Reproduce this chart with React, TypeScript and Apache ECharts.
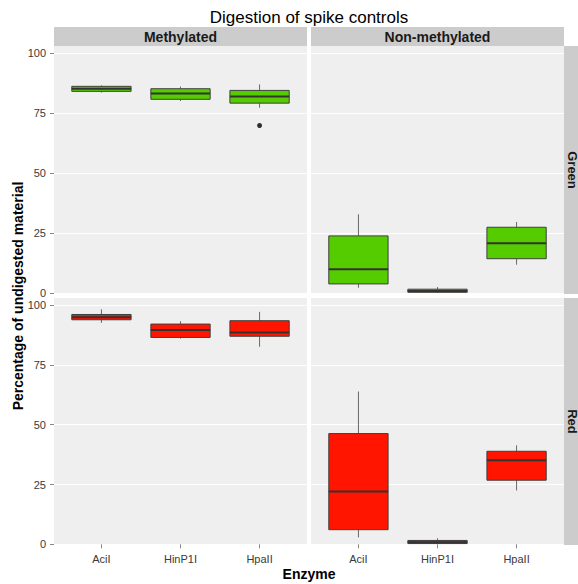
import React, { useEffect, useRef } from 'react';
import * as echarts from 'echarts';

const enzymes = ['AciI', 'HinP1I', 'HpaII'];
const treatments = ['Methylated', 'Non-methylated'];
const channels = ['Green', 'Red'];
const yTicks = [0, 25, 50, 75, 100];
const xPositions = [1, 2, 3];

// [min, Q1, median, Q3, max] per enzyme
const greenMethylated = [
  [83.6, 84.1, 85.2, 86.2, 86.6],
  [80.1, 80.8, 83.2, 85.2, 86.1],
  [77.3, 79.2, 82.0, 84.5, 87.0],
];
const greenNonMethylated = [
  [2.3, 3.9, 10.0, 23.9, 32.9],
  [0.2, 0.4, 0.9, 1.7, 2.6],
  [11.9, 14.4, 20.8, 27.5, 29.7],
];
const redMethylated = [
  [92.6, 93.9, 95.0, 96.1, 98.3],
  [86.0, 86.5, 89.6, 92.1, 93.3],
  [82.6, 87.0, 88.6, 93.5, 97.2],
];
const redNonMethylated = [
  [2.9, 6.1, 22.1, 46.3, 63.9],
  [0.1, 0.3, 0.9, 1.6, 2.5],
  [22.5, 26.8, 35.1, 38.9, 41.4],
];
// outliers: [enzyme position, value]
const greenMethylatedOutliers = [[3, 69.9]];

const channelColors = ['#55CC00', '#FF1500'];

const FONT = '"Liberation Sans", Arial, Helvetica, sans-serif';

export default function App() {
  const ref = useRef<HTMLDivElement>(null);

  useEffect(() => {
    document.body.style.margin = '0';
    if (!ref.current) return;
    const chart = echarts.init(ref.current, null, { renderer: 'svg' });

    const panelX = [[54, 253], [311, 253]];
    const panelY = [[46, 248], [298, 247]];

    const panels = [
      { row: 0, col: 0, data: greenMethylated, outliers: greenMethylatedOutliers },
      { row: 0, col: 1, data: greenNonMethylated, outliers: [] as number[][] },
      { row: 1, col: 0, data: redMethylated, outliers: [] as number[][] },
      { row: 1, col: 1, data: redNonMethylated, outliers: [] as number[][] },
    ];

    const renderBox = (fill: string) => (params: any, api: any) => {
      const x = api.value(0);
      const c = (v: number) => api.coord([x, v]);
      const [cx, yMin] = c(api.value(1));
      const yQ1 = c(api.value(2))[1];
      const yMed = c(api.value(3))[1];
      const yQ3 = c(api.value(4))[1];
      const yMax = c(api.value(5))[1];
      const w = api.size([0.75, 0])[0];
      return {
        type: 'group',
        children: [
          { type: 'line', shape: { x1: cx, y1: yMax, x2: cx, y2: yQ3 }, style: { stroke: '#6a6a6a', lineWidth: 1 } },
          { type: 'line', shape: { x1: cx, y1: yQ1, x2: cx, y2: yMin }, style: { stroke: '#6a6a6a', lineWidth: 1 } },
          {
            type: 'rect',
            shape: { x: cx - w / 2, y: yQ3, width: w, height: yQ1 - yQ3 },
            style: { fill, stroke: '#3f3f3f', lineWidth: 1 },
          },
          { type: 'line', shape: { x1: cx - w / 2, y1: yMed, x2: cx + w / 2, y2: yMed }, style: { stroke: '#333333', lineWidth: 2 } },
        ],
      };
    };

    const grid: any[] = [];
    const xAxis: any[] = [];
    const yAxis: any[] = [];
    const series: any[] = [];

    panels.forEach((p, i) => {
      grid.push({
        left: panelX[p.col][0],
        width: panelX[p.col][1],
        top: panelY[p.row][0],
        height: panelY[p.row][1],
        show: true,
        backgroundColor: '#EFEFEF',
        borderWidth: 0,
      });
      const showX = p.row === 1;
      xAxis.push({
        type: 'value',
        gridIndex: i,
        min: 0.4,
        max: 3.6,
        axisLine: { show: false },
        splitLine: { show: false },
        axisTick: {
          show: showX,
          customValues: xPositions,
          length: 4,
          lineStyle: { color: '#888888' },
        },
        axisLabel: {
          show: showX,
          customValues: xPositions,
          formatter: (v: number) => enzymes[Math.round(v) - 1] ?? '',
          color: '#3a3a3a',
          fontSize: 11,
          fontFamily: FONT,
          margin: 8,
        },
      });
      const showY = p.col === 0;
      yAxis.push({
        type: 'value',
        gridIndex: i,
        min: -0.3,
        max: 103,
        axisLine: { show: false },
        axisTick: {
          show: showY,
          customValues: yTicks,
          length: 4,
          lineStyle: { color: '#888888' },
        },
        axisLabel: {
          show: showY,
          customValues: yTicks,
          color: '#3a3a3a',
          fontSize: 11,
          fontFamily: FONT,
          margin: 8,
        },
        splitLine: { show: true, lineStyle: { color: '#FFFFFF', width: 1 } },
      });
      series.push({
        type: 'custom',
        xAxisIndex: i,
        yAxisIndex: i,
        renderItem: renderBox(channelColors[p.row]),
        encode: { x: 0, y: [1, 2, 3, 4, 5] },
        data: p.data.map((d, k) => [xPositions[k], ...d]),
        clip: false,
      });
      if (p.outliers.length) {
        series.push({
          type: 'scatter',
          xAxisIndex: i,
          yAxisIndex: i,
          data: p.outliers,
          symbol: 'circle',
          symbolSize: 5,
          itemStyle: { color: '#000000' },
        });
      }
    });

    const graphic: any[] = [];
    // top strips
    treatments.forEach((t, c) => {
      graphic.push({
        type: 'rect',
        shape: { x: panelX[c][0], y: 27, width: panelX[c][1], height: 19 },
        style: { fill: '#CCCCCC' },
        silent: true,
      });
      graphic.push({
        type: 'text',
        x: panelX[c][0] + panelX[c][1] / 2,
        y: 37,
        style: {
          text: t,
          align: 'center',
          verticalAlign: 'middle',
          font: `bold 14px ${FONT}`,
          fill: '#1a1a1a',
        },
        silent: true,
      });
    });
    // right strips
    channels.forEach((ch, r) => {
      graphic.push({
        type: 'rect',
        shape: { x: 564, y: panelY[r][0], width: 19, height: panelY[r][1] },
        style: { fill: '#CCCCCC' },
        silent: true,
      });
      graphic.push({
        type: 'text',
        x: 572,
        y: panelY[r][0] + panelY[r][1] / 2,
        rotation: -Math.PI / 2,
        style: {
          text: ch,
          align: 'center',
          verticalAlign: 'middle',
          font: `bold 13px ${FONT}`,
          fill: '#1a1a1a',
        },
        silent: true,
      });
    });
    // title
    graphic.push({
      type: 'text',
      x: 309,
      y: 17,
      style: {
        text: 'Digestion of spike controls',
        align: 'center',
        verticalAlign: 'middle',
        font: `17px ${FONT}`,
        fill: '#000000',
      },
    });
    // x axis title
    graphic.push({
      type: 'text',
      x: 309,
      y: 574,
      style: {
        text: 'Enzyme',
        align: 'center',
        verticalAlign: 'middle',
        font: `bold 14px ${FONT}`,
        fill: '#000000',
      },
    });
    // y axis title
    graphic.push({
      type: 'text',
      x: 18,
      y: 296,
      rotation: Math.PI / 2,
      style: {
        text: 'Percentage of undigested material',
        align: 'center',
        verticalAlign: 'middle',
        font: `bold 14px ${FONT}`,
        fill: '#000000',
      },
    });

    chart.setOption({
      animation: false,
      backgroundColor: '#FFFFFF',
      grid,
      xAxis,
      yAxis,
      series,
      graphic,
    });

    return () => chart.dispose();
  }, []);

  return (
    <div
      ref={ref}
      style={{ position: 'fixed', left: 0, top: 0, width: 578, height: 584 }}
    />
  );
}
